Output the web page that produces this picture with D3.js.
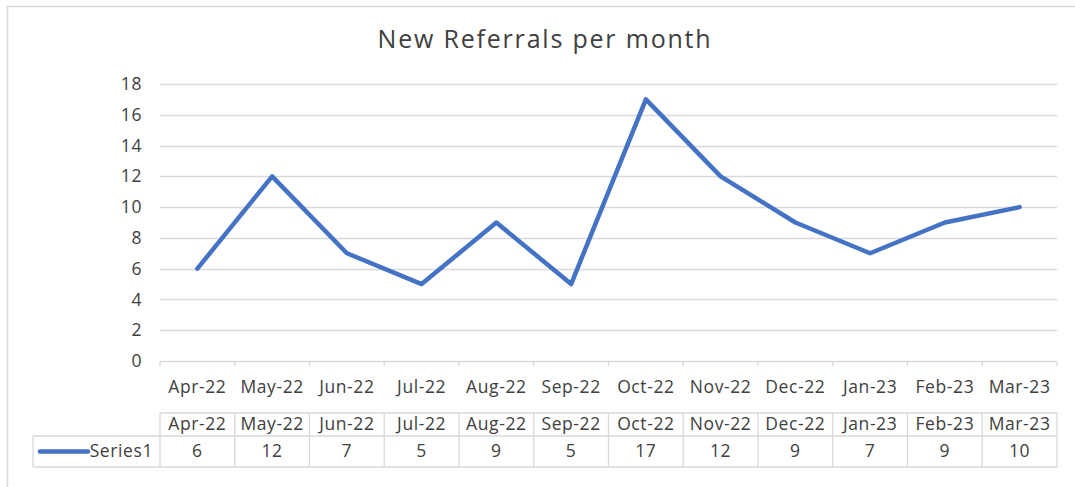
<!DOCTYPE html>
<html>
<head>
<meta charset="utf-8">
<script src="https://cdn.jsdelivr.net/npm/d3@7"></script>
<style>
  body { margin: 0; background: #fff; }
  svg text { font-family: "Open Sans", "Noto Sans", sans-serif; }
</style>
</head>
<body>
<svg id="chart" width="1075" height="487"></svg>
<script>
// chart data
var months = ["Apr-22", "May-22", "Jun-22", "Jul-22", "Aug-22", "Sep-22",
              "Oct-22", "Nov-22", "Dec-22", "Jan-23", "Feb-23", "Mar-23"];
var referrals = [6, 12, 7, 5, 9, 5, 17, 12, 9, 7, 9, 10];
var yTicks = [0, 2, 4, 6, 8, 10, 12, 14, 16, 18];
var seriesName = "Series1";
var chartTitle = "New Referrals per month";

var svg = d3.select("#chart"),
    margin = {top: 84, left: 160, right: 18, bottom: 126},
    width = +svg.attr("width"),
    height = +svg.attr("height");

var lineColor = "#4472c4",
    gridColor = "#d9d9d9",
    textColor = "#404040",
    labelSize = "17.5px",
    labelSpacing = "0.6px";

// outer chart-area border (cropped on right/bottom in the reference)
svg.append("rect")
    .attr("x", 7.5).attr("y", 6.5)
    .attr("width", width + 20).attr("height", height + 20)
    .attr("fill", "none").attr("stroke", gridColor).attr("stroke-width", 1.5);

var x = d3.scaleBand()
    .domain(months)
    .range([margin.left, width - margin.right]);

var y = d3.scaleLinear()
    .domain([0, 18])
    .range([height - margin.bottom, margin.top]);

// title
svg.append("text")
    .attr("x", 545)
    .attr("y", 48)
    .attr("text-anchor", "middle")
    .attr("fill", textColor)
    .style("font-size", "25px")
    .style("letter-spacing", "1.8px")
    .text(chartTitle);

// gridlines
svg.append("g")
    .selectAll("line")
    .data(yTicks.filter(d => d > 0))
    .join("line")
    .attr("x1", x.range()[0]).attr("x2", x.range()[1])
    .attr("y1", d => Math.round(y(d)) + 0.5).attr("y2", d => Math.round(y(d)) + 0.5)
    .attr("stroke", gridColor).attr("stroke-width", 1.3);

// y axis labels
var yAxis = svg.append("g")
    .attr("transform", `translate(${margin.left},0)`)
    .call(d3.axisLeft(y).tickValues(yTicks).tickSize(0).tickPadding(18));
yAxis.select(".domain").remove();
yAxis.selectAll("text")
    .attr("fill", textColor)
    .style("font-size", labelSize)
    .style("letter-spacing", labelSpacing);

// x axis with tick marks between categories
var xAxisG = svg.append("g")
    .attr("transform", `translate(0,${Math.round(y(0)) + 0.5})`);
xAxisG.append("line")
    .attr("x1", x.range()[0]).attr("x2", x.range()[1])
    .attr("stroke", gridColor).attr("stroke-width", 1.3);
xAxisG.selectAll("line.tick")
    .data(months.concat(["end"]))
    .join("line")
    .attr("class", "tick")
    .attr("x1", (d, i) => x.range()[0] + i * x.step())
    .attr("x2", (d, i) => x.range()[0] + i * x.step())
    .attr("y1", 0).attr("y2", 5)
    .attr("stroke", gridColor).attr("stroke-width", 1.3);
xAxisG.selectAll("text")
    .data(months)
    .join("text")
    .attr("x", d => x(d) + x.bandwidth() / 2)
    .attr("y", 31)
    .attr("text-anchor", "middle")
    .attr("fill", textColor)
    .style("font-size", labelSize)
    .style("letter-spacing", labelSpacing)
    .text(d => d);

// the line
var line = d3.line()
    .x((d, i) => x(months[i]) + x.bandwidth() / 2)
    .y(d => y(d));

svg.append("path")
    .datum(referrals)
    .attr("d", line)
    .attr("fill", "none")
    .attr("stroke", lineColor)
    .attr("stroke-width", 4.5)
    .attr("stroke-linejoin", "round")
    .attr("stroke-linecap", "round");

// data table under the chart
var rowTop = 413, rowMid = 436, rowBottom = 467, tableLeft = 33;
var table = svg.append("g");

table.append("path")
    .attr("d", [
        `M${x.range()[0]},${rowTop}H${x.range()[1]}`,
        `M${tableLeft},${rowMid}H${x.range()[1]}`,
        `M${tableLeft},${rowBottom}H${x.range()[1]}`,
        `M${tableLeft},${rowMid}V${rowBottom}`
    ].join(""))
    .attr("stroke", gridColor).attr("stroke-width", 1.3).attr("fill", "none");

table.selectAll("line.col")
    .data(months.concat(["end"]))
    .join("line")
    .attr("class", "col")
    .attr("x1", (d, i) => x.range()[0] + i * x.step())
    .attr("x2", (d, i) => x.range()[0] + i * x.step())
    .attr("y1", rowTop).attr("y2", rowBottom)
    .attr("stroke", gridColor).attr("stroke-width", 1.3);

table.selectAll("text.head")
    .data(months)
    .join("text")
    .attr("class", "head")
    .attr("x", d => x(d) + x.bandwidth() / 2)
    .attr("y", 430)
    .attr("text-anchor", "middle")
    .attr("fill", textColor)
    .style("font-size", labelSize)
    .style("letter-spacing", labelSpacing)
    .text(d => d);

table.selectAll("text.val")
    .data(referrals)
    .join("text")
    .attr("class", "val")
    .attr("x", (d, i) => x(months[i]) + x.bandwidth() / 2)
    .attr("y", 457)
    .attr("text-anchor", "middle")
    .attr("fill", textColor)
    .style("font-size", labelSize)
    .style("letter-spacing", labelSpacing)
    .text(d => d);

// legend key in the table
table.append("line")
    .attr("x1", 40).attr("x2", 88)
    .attr("y1", 451.5).attr("y2", 451.5)
    .attr("stroke", lineColor).attr("stroke-width", 4.5)
    .attr("stroke-linecap", "round");
table.append("text")
    .attr("x", 153).attr("y", 457)
    .attr("text-anchor", "end")
    .attr("fill", textColor)
    .style("font-size", labelSize)
    .style("letter-spacing", labelSpacing)
    .text(seriesName);
</script>
</body>
</html>
